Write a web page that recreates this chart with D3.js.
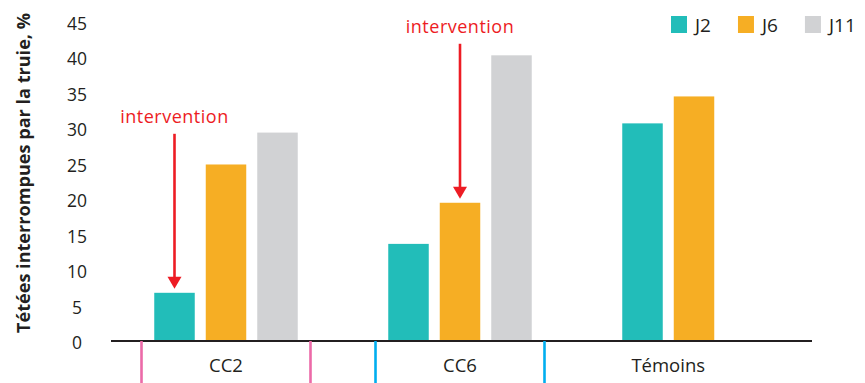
<!DOCTYPE html>
<html>
<head>
<meta charset="utf-8">
<script src="https://cdn.jsdelivr.net/npm/d3@7/dist/d3.min.js"></script>
<style>
  html, body { margin: 0; padding: 0; background: #fff; }
  svg { display: block; font-family: "Open Sans", "Noto Sans", sans-serif; }
</style>
</head>
<body>
<svg id="chart" width="865" height="383"></svg>
<script>
// Groups, series and values (% of nursing bouts interrupted by the sow)
const groups = ["CC2", "CC6", "Témoins"];
const series = ["J2", "J6", "J11"];
const valuesJ2  = [6.8, 13.7, 30.7];
const valuesJ6  = [24.9, 19.5, 34.5];
const valuesJ11 = [29.4, 40.3, null];
const yTicks = [0, 5, 10, 15, 20, 25, 30, 35, 40, 45];
const colors = ["#22bdb9", "#f6ae24", "#d1d2d4"];
// Groups framed by coloured divider ticks under the axis
const dividerGroups = ["CC2", "CC6"];
const dividerColors = ["#ec6aa8", "#00aeef"];
// Annotation arrows: [group, series]
const annotations = [["CC2", "J2"], ["CC6", "J6"]];
const annotationText = "intervention";

const seriesValues = [valuesJ2, valuesJ6, valuesJ11];
const rows = [];
groups.forEach((g, gi) => {
  series.forEach((s, si) => {
    const v = seriesValues[si][gi];
    if (v != null) rows.push({ group: g, series: s, value: v, color: colors[si] });
  });
});

const svg = d3.select("#chart");
const ink = "#231f20";

const y = d3.scaleLinear().domain([0, 45]).range([341, 22]);
const x0 = d3.scaleBand().domain(groups).range([141.5, 778.5])
  .paddingInner(0.2778).paddingOuter(0);
const x1 = d3.scaleBand().domain(series).range([0, x0.bandwidth()])
  .paddingInner(0.2136).paddingOuter(0.2476);

const barX = d => x0(d.group) + x1(d.series);
const barCx = d => barX(d) + x1.bandwidth() / 2;

// Bars
svg.append("g").selectAll("rect").data(rows).join("rect")
  .attr("x", barX)
  .attr("y", d => y(d.value))
  .attr("width", x1.bandwidth())
  .attr("height", d => y(0) - y(d.value))
  .attr("fill", d => d.color);

// Y tick labels (no axis line)
svg.append("g").selectAll("text").data(yTicks).join("text")
  .attr("x", 77)
  .attr("y", d => y(d) + 1)
  .attr("text-anchor", "middle")
  .attr("dominant-baseline", "central")
  .attr("font-size", 17.5)
  .attr("fill", ink)
  .text(d => d);

// Y title
svg.append("text")
  .attr("transform", "translate(30,173) rotate(-90)")
  .attr("text-anchor", "middle")
  .attr("font-size", 17)
  .attr("font-weight", 700)
  .attr("fill", ink)
  .attr("textLength", 320)
  .attr("lengthAdjust", "spacingAndGlyphs")
  .text("Tétées interrompues par la truie, %");

// Baseline
svg.append("line")
  .attr("x1", 111).attr("x2", 812)
  .attr("y1", y(0)).attr("y2", y(0))
  .attr("stroke", ink).attr("stroke-width", 2);

// Divider ticks below the axis
dividerGroups.forEach((g, i) => {
  [x0(g), x0(g) + x0.bandwidth()].forEach(xx => {
    svg.append("line")
      .attr("x1", xx).attr("x2", xx)
      .attr("y1", y(0)).attr("y2", 383)
      .attr("stroke", dividerColors[i]).attr("stroke-width", 2.6);
  });
});

// Category labels, centred under the bars of each group
groups.forEach(g => {
  const gr = rows.filter(r => r.group === g);
  const cx = d3.mean(gr, barCx);
  svg.append("text")
    .attr("x", cx).attr("y", 364)
    .attr("text-anchor", "middle")
    .attr("dominant-baseline", "central")
    .attr("font-size", 18.5)
    .attr("fill", ink)
    .text(g);
});

// Annotations
const red = "#ed1c24";
annotations.forEach(([g, s]) => {
  const d = rows.find(r => r.group === g && r.series === s);
  const cx = barCx(d);
  const tip = y(d.value) - 4;
  const tail = tip - 155;
  const head = 12;
  svg.append("line")
    .attr("x1", cx).attr("x2", cx)
    .attr("y1", tail).attr("y2", tip - head + 1)
    .attr("stroke", red).attr("stroke-width", 2.6);
  svg.append("path")
    .attr("d", `M${cx - 7},${tip - head}L${cx + 7},${tip - head}L${cx},${tip}Z`)
    .attr("fill", red);
  svg.append("text")
    .attr("x", cx).attr("y", tail - 11)
    .attr("text-anchor", "middle")
    .attr("font-size", 18)
    .attr("letter-spacing", 0.5)
    .attr("fill", red)
    .text(annotationText);
});

// Legend
const legend = svg.append("g");
let lx = 671;
series.forEach((s, i) => {
  legend.append("rect")
    .attr("x", lx).attr("y", 16)
    .attr("width", 16).attr("height", 17)
    .attr("fill", colors[i]);
  const t = legend.append("text")
    .attr("x", lx + 24).attr("y", 25)
    .attr("dominant-baseline", "central")
    .attr("font-size", 19)
    .attr("fill", ink)
    .text(s);
  lx += 24 + t.node().getComputedTextLength() + 27;
});
</script>
</body>
</html>
